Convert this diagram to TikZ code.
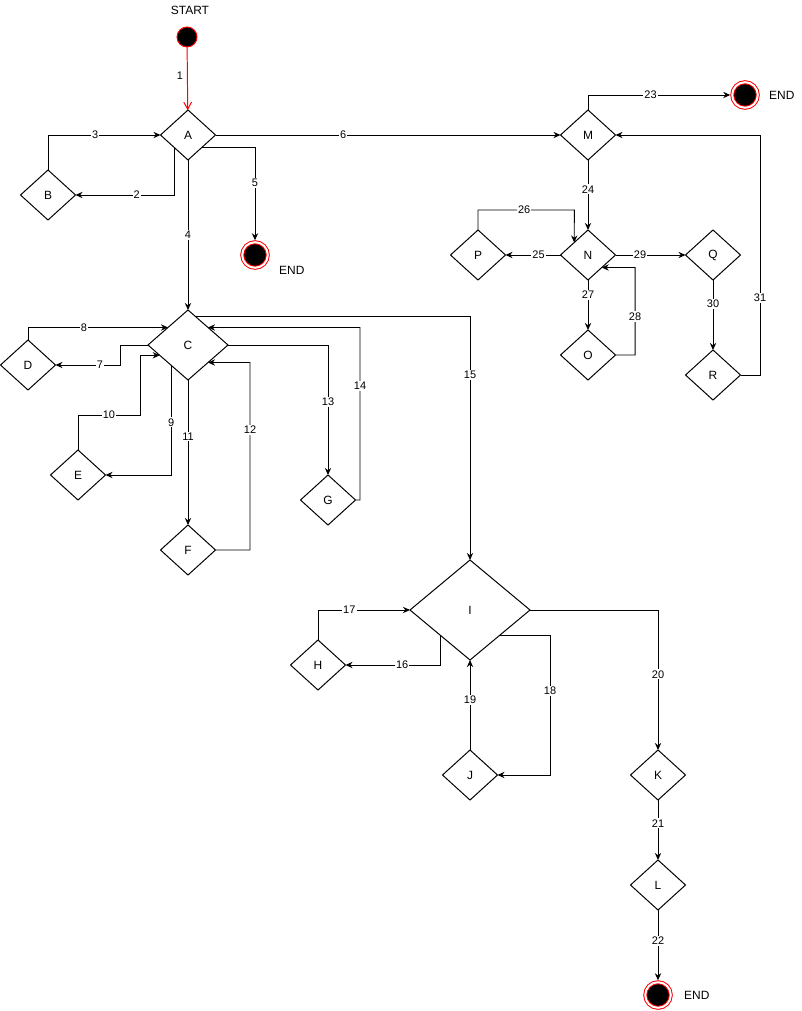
\documentclass[tikz,border=0pt]{standalone}
\usepackage{fontspec}
\setmainfont{Liberation Sans}
\usetikzlibrary{arrows.meta,shapes.geometric}

\begin{document}
\begin{tikzpicture}[x=0.025cm, y=-0.025cm, line width=0.7pt, >={Stealth[length=5pt,width=4.5pt]},
  cond/.style={diamond, draw, inner sep=0pt, outer sep=0pt, minimum width=1.375cm, minimum height=1.25cm, font=\fontsize{8.5}{10}\selectfont},
  startdot/.style={circle, draw=red, fill=black, minimum size=0.5cm, inner sep=0pt},
  enddot/.style={circle, draw=red, double=white, double distance=1.4pt, fill=black, minimum size=0.64cm, inner sep=0pt, outer sep=1.4pt},
  txt/.style={font=\fontsize{8.5}{10}\selectfont},
  lbl/.style={fill=white, inner sep=0.8pt, font=\fontsize{7.8}{9}\selectfont}]
	\useasboundingbox (0,0) rectangle (801,1011);
	% states
	\node[startdot] (start) at (187,37) {};
	\node[txt] (startlbl) at (190,10) {START};
	\node[cond] (A) at (188,135) {A};
	\node[cond] (B) at (48,195) {B};
	\node[enddot] (end1) at (255,255) {};
	\node[txt, anchor=west] (end1lbl) at (274,270) {END};
	\node[cond, minimum width=2cm, minimum height=1.75cm] (C) at (188,345) {C};
	\node[cond] (D) at (28,365) {D};
	\node[cond] (E) at (78,475) {E};
	\node[cond] (F) at (188,550) {F};
	\node[cond] (G) at (328,500) {G};
	\node[cond, minimum width=3cm, minimum height=2.5cm] (I) at (470,610) {I};
	\node[cond] (H) at (318,665) {H};
	\node[cond] (J) at (470,775) {J};
	\node[cond] (K) at (658,775) {K};
	\node[cond] (L) at (658,885) {L};
	\node[enddot] (end3) at (658,995) {};
	\node[txt, anchor=west] (end3lbl) at (679,995) {END};
	\node[cond] (M) at (588,135) {M};
	\node[enddot] (end2) at (745,95) {};
	\node[txt, anchor=west] (end2lbl) at (764,95) {END};
	\node[cond] (N) at (588,255) {N};
	\node[cond] (O) at (588,355) {O};
	\node[cond] (P) at (478,255) {P};
	\node[cond] (Q) at (713,255) {Q};
	\node[cond] (R) at (713,375) {R};
	% transitions
	\draw[red, -{Straight Barb[length=5pt,width=5.5pt]}] (start) -- node[lbl, fill=none, text=black, pos=.45, left=2pt]{1} (A);
	\draw[->] (A.south west) |- node[lbl, pos=.69]{2} (B.east);
	\draw[->] (B.north) |- node[lbl, pos=.71]{3} (A.west);
	\draw[->] (A) -- node[lbl]{4} (C);
	\draw[->] (A.south east) -| node[lbl, pos=.69]{5} (end1);
	\draw[->] (A) -- node[lbl, pos=.37]{6} (M);
	\draw[->] (C.west) -| (120,365) -- node[lbl, pos=.31]{7} (D.east);
	\draw[->] (D.north) |- node[lbl, pos=.7]{8} (C.north west);
	\draw[->] (C.230) |- node[lbl, pos=.26]{9} (E.east);
	\draw[->] (E.north) |- node[lbl, pos=.75]{10} (140,415) |- (C.200);
	\draw[->] (C) -- node[lbl, pos=.39]{11} (F);
	\draw[->] (F.east) -| node[lbl, pos=.82]{12} (250,362.5) -- (C.south east);
	\draw[->] (C.east) -| node[lbl, pos=.72]{13} (G.north);
	\draw[->] (G.east) -| node[lbl, pos=.83]{14} (360,327.5) -- (C.north east);
	\draw[->] (C.75) -| node[lbl, pos=.62]{15} (I.north);
	\draw[->] (I.south west) |- node[lbl, pos=.7]{16} (H.east);
	\draw[->] (H.north) |- node[lbl, pos=.67]{17} (I.west);
	\draw[->] (I.south east) -| node[lbl, pos=.7]{18} (550,775) -- (J.east);
	\draw[->] (J) -- node[lbl, pos=.56]{19} (I);
	\draw[->] (I.east) -| node[lbl, pos=.73]{20} (K.north);
	\draw[->] (K) -- node[lbl, pos=.39]{21} (L);
	\draw[->] (L) -- node[lbl, pos=.44]{22} (end3);
	\draw[->] (M.north) |- node[lbl, pos=.72]{23} (end2.west);
	\draw[->] (M) -- node[lbl, pos=.42]{24} (N);
	\draw[->] (N) -- node[lbl, pos=.4]{25} (P);
	\draw[->] (P.north) |- node[lbl, pos=.74]{26} (574.25,210) -- (N.north west);
	\draw[->] (N) -- node[lbl, pos=.3]{27} (O);
	\draw[->] (O.east) -| node[lbl, pos=.72]{28} (635,267.5) -- (N.south east);
	\draw[->] (N) -- node[lbl, pos=.35]{29} (Q);
	\draw[->] (Q) -- node[lbl, pos=.34]{30} (R);
	\draw[->] (R.east) -| node[lbl, pos=.66]{31} (760,135) -- (M.east);
\end{tikzpicture}
\end{document}
